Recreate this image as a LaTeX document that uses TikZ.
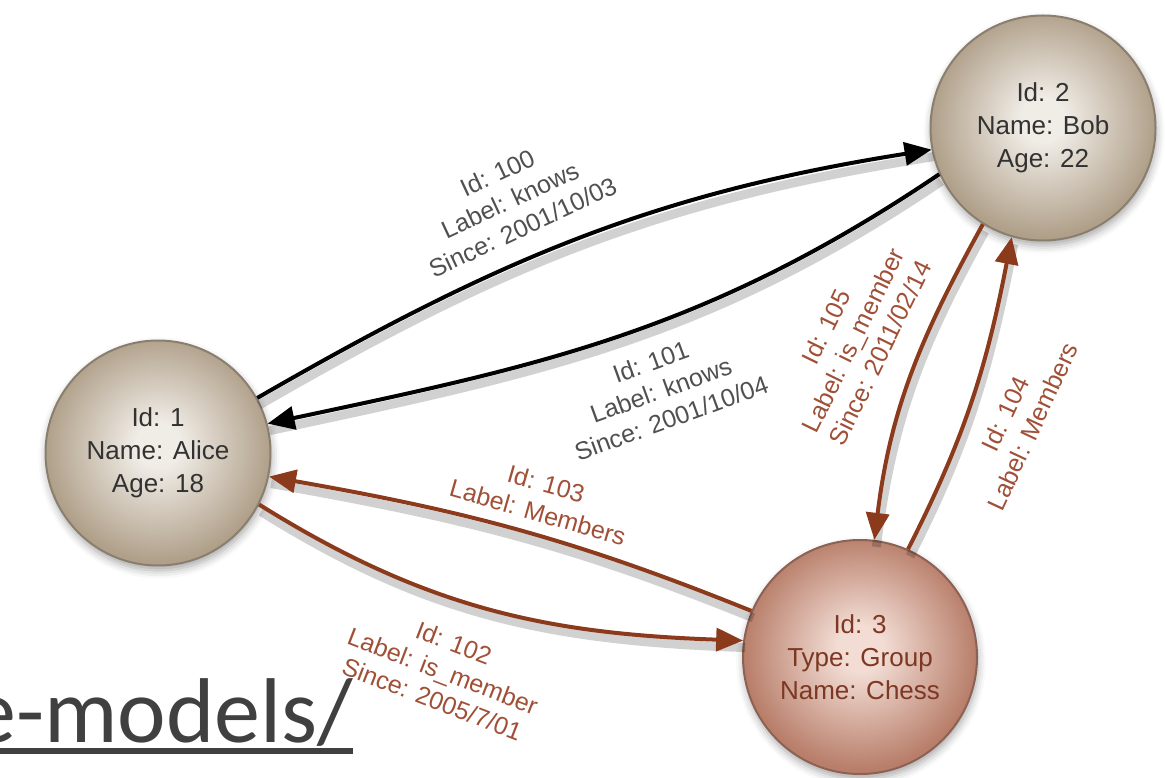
\documentclass[tikz,border=0pt]{standalone}
\usepackage{fontspec}
\setmainfont{Liberation Sans}
\newfontfamily\urlfont{Carlito}
\usetikzlibrary{arrows.meta,shadows.blur}
\definecolor{beigeIn}{RGB}{240,236,230}
\definecolor{beigeOut}{RGB}{176,160,138}
\definecolor{beigeLine}{RGB}{138,126,110}
\definecolor{pinkIn}{RGB}{242,220,212}
\definecolor{pinkOut}{RGB}{184,126,106}
\definecolor{pinkLine}{RGB}{140,98,84}
\definecolor{nodeText}{RGB}{50,50,50}
\definecolor{groupText}{RGB}{124,56,34}
\definecolor{edgeBrown}{RGB}{140,58,28}
\definecolor{labelGray}{RGB}{80,80,80}
\definecolor{labelBrown}{RGB}{160,80,55}
\definecolor{urlGray}{RGB}{64,64,64}
\pgfdeclareradialshading{beigeball}{\pgfpoint{0bp}{2bp}}{color(0bp)=(beigeIn); color(5bp)=(beigeIn); color(25bp)=(beigeOut); color(50bp)=(beigeOut)}
\pgfdeclareradialshading{pinkball}{\pgfpoint{0bp}{2bp}}{color(0bp)=(pinkIn); color(5bp)=(pinkIn); color(25bp)=(pinkOut); color(50bp)=(pinkOut)}
\begin{document}
\begin{tikzpicture}[x=1pt,y=1pt,
  ball/.style={circle, inner sep=0pt, line width=2pt, align=center,
    font=\fontsize{26}{33}\selectfont,
    blur shadow={shadow xshift=1pt, shadow yshift=-5pt, shadow blur radius=8pt, shadow opacity=35}},
  person/.style={ball, minimum size=225pt, draw=beigeLine, shading=beigeball, text=nodeText},
  groupnode/.style={ball, minimum size=234pt, draw=pinkLine, shading=pinkball, text=groupText},
  edgebase/.style={line width=4pt, -{Triangle[length=27pt,width=23pt]},
    preaction={draw=black, draw opacity=0.18, line width=9pt, arrows=-,
      transform canvas={xshift=2pt,yshift=-7pt}}},
  knows/.style={edgebase, draw=black},
  member/.style={edgebase, draw=edgeBrown},
  elabel/.style={align=center, font=\fontsize{25}{30}\selectfont, inner sep=0pt},
  graylabel/.style={elabel, text=labelGray},
  brownlabel/.style={elabel, text=labelBrown}
]
\useasboundingbox (0,0) rectangle (1165,777);
\clip (0,0) rectangle (1165,777);

% nodes
\node[person] (alice) at (158,324) {Id: 1\\Name: Alice\\Age: 18};
\node[person] (bob) at (1043,649) {Id: 2\\Name: Bob\\Age: 22};
\node[groupnode] (chess) at (860,120) {Id: 3\\Type: Group\\Name: Chess};

% edges
\draw[knows] (alice.29) to[out=30,in=189] (bob.191);
\draw[knows] (bob.204) to[out=214,in=12] (alice.15);
\draw[member] (alice.333) to[out=328,in=178] (chess.172);
\draw[member] (chess.157) to[out=158,in=350] (alice.348);
\draw[member] (bob.238) to[out=241,in=83] (chess.83);
\draw[member] (chess.66) to[out=63,in=259] (bob.254);

% edge labels
\node[graylabel, rotate=25] (l100) at (510,577) {Id: 100\\Label: knows\\Since: 2001/10/03};
\node[graylabel, rotate=20] (l101) at (661,387) {Id: 101\\Label: knows\\Since: 2001/10/04};
\node[brownlabel, rotate=-16] (l103) at (542,279) {Id: 103\\Label: Members};
\node[brownlabel, rotate=-21] (l102) at (443,106) {Id: 102\\Label: is\_member\\Since: 2005/7/01};
\node[brownlabel, rotate=64] (l105) at (853,437) {Id: 105\\Label: is\_member\\Since: 2011/02/14};
\node[brownlabel, rotate=65] (l104) at (1019,357) {Id: 104\\Label: Members};

% url fragment
\node[anchor=base west, inner sep=0pt, text=urlGray, font=\urlfont\fontsize{92}{110}\selectfont] (url) at (-30,35) {e-models/};
\draw[urlGray, line width=6.5pt] ([yshift=-9pt]url.base west) -- ([yshift=-9pt]url.base east);
\end{tikzpicture}
\end{document}
